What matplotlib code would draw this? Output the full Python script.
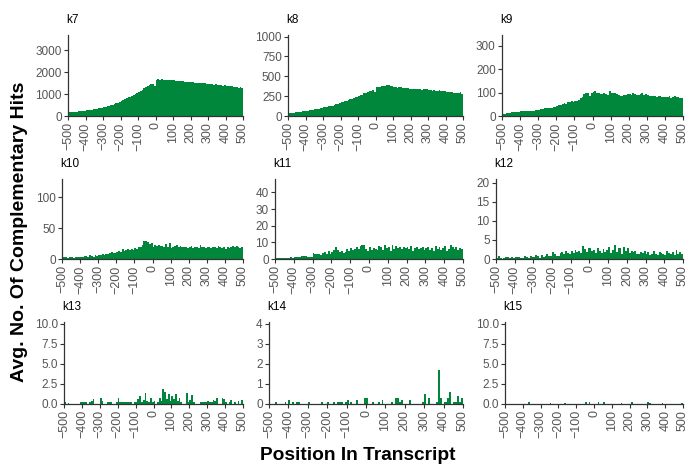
import numpy as np
import matplotlib
matplotlib.use("Agg")
import matplotlib.pyplot as plt

plt.rcParams["font.family"] = "Liberation Sans"

# bins of 10 nt from -500 to 500
bin_edges = np.arange(-500, 501, 10)
x_ticks = np.arange(-500, 501, 100)

k7 = [165, 170, 175, 180, 190, 200, 210, 220, 230, 245,
      260, 270, 280, 290, 305, 320, 335, 350, 365, 385,
      400, 420, 440, 465, 490, 515, 545, 575, 610, 650,
      690, 730, 770, 810, 850, 890, 930, 975, 1020, 1065,
      1110, 1160, 1210, 1260, 1310, 1360, 1410, 1450, 1480, 1350,
      1650, 1680, 1660, 1680, 1650, 1640, 1660, 1650, 1640, 1630,
      1630, 1620, 1610, 1600, 1600, 1590, 1560, 1550, 1540, 1550,
      1560, 1550, 1530, 1510, 1520, 1510, 1500, 1490, 1490, 1470,
      1470, 1450, 1440, 1430, 1440, 1410, 1420, 1400, 1390, 1400,
      1380, 1370, 1350, 1360, 1340, 1320, 1330, 1300, 1310, 1300]

k8 = [35, 36, 38, 40, 45, 48, 50, 55, 58, 62,
      65, 68, 72, 76, 80, 85, 88, 92, 97, 102,
      110, 108, 115, 120, 125, 132, 140, 148, 155, 165,
      175, 180, 185, 192, 200, 210, 220, 228, 238, 245,
      255, 262, 270, 285, 295, 300, 310, 318, 325, 300,
      360, 365, 370, 375, 380, 372, 385, 392, 380, 375,
      360, 370, 355, 360, 362, 355, 358, 350, 352, 345,
      345, 342, 345, 340, 338, 340, 330, 338, 342, 335,
      330, 325, 320, 328, 315, 318, 322, 312, 310, 315,
      305, 302, 300, 298, 295, 290, 292, 295, 300, 275]

k9 = [10, 10, 12, 12, 14, 16, 18, 16, 15, 16,
      20, 20, 20, 21, 22, 22, 22, 22, 24, 24,
      26, 28, 30, 32, 33, 34, 36, 35, 38, 40,
      44, 45, 48, 50, 55, 52, 58, 60, 62, 60,
      64, 66, 70, 75, 82, 92, 100, 98, 85, 96,
      104, 106, 98, 96, 95, 92, 100, 95, 90, 105,
      98, 100, 96, 94, 88, 85, 84, 88, 90, 92,
      92, 90, 96, 92, 90, 88, 93, 98, 90, 92,
      88, 86, 84, 86, 84, 82, 86, 84, 80, 82,
      80, 82, 84, 78, 80, 86, 82, 80, 78, 78]

k10 = [3, 3, 3, 2, 3, 3, 2, 3, 4, 3,
       4, 4, 5, 5, 4, 6, 5, 3, 7, 5,
       7, 6, 8, 7, 8, 8, 9, 11, 9, 10,
       11, 13, 12, 16, 13, 15, 17, 14, 16, 15,
       18, 16, 19, 20, 23, 29, 30, 28, 24, 26,
       20, 22, 21, 22, 21, 21, 20, 25, 20, 26,
       18, 20, 21, 22, 20, 21, 20, 19, 20, 18,
       19, 21, 18, 19, 20, 18, 22, 19, 20, 18,
       19, 20, 18, 20, 19, 18, 21, 19, 18, 20,
       17, 19, 18, 20, 21, 19, 21, 20, 18, 19]

k11 = [0.5, 0.6, 0.5, 0.8, 0.6, 0.7, 0.9, 0.8, 1.2, 0.9,
       1.0, 1.2, 1.5, 1.3, 1.8, 1.6, 1.7, 1.5, 1.5, 1.2,
       3.5, 3.0, 2.8, 3.2, 2.6, 3.4, 4.5, 3.0, 4.8, 3.2,
       4.5, 5.6, 7.0, 5.2, 4.0, 4.8, 3.5, 4.2, 5.8, 5.0,
       6.5, 5.5, 6.2, 7.0, 6.0, 7.8, 8.5, 8.4, 6.0, 5.0,
       7.0, 5.5, 6.8, 6.0, 5.2, 8.0, 7.5, 5.5, 8.4, 6.5,
       7.2, 5.0, 8.2, 6.0, 7.6, 6.4, 7.4, 5.8, 7.0, 6.6,
       7.2, 6.0, 7.8, 5.0, 6.8, 7.0, 5.8, 6.6, 7.4, 5.6,
       6.8, 7.2, 5.4, 6.6, 4.8, 8.0, 6.0, 7.0, 5.2, 6.4,
       7.6, 5.0, 6.2, 8.4, 7.0, 6.0, 7.4, 5.2, 6.8, 5.8]

k12 = [0.3, 0.7, 0.2, 0.1, 0.3, 0.6, 0.5, 0.2, 0.6, 0.3,
       0.4, 0.6, 0.5, 0.2, 0.3, 0.8, 0.6, 0.3, 0.9, 0.4,
       0.5, 1.0, 0.8, 0.3, 1.0, 0.6, 0.8, 1.2, 0.7, 0.9,
       1.8, 1.2, 0.9, 0.8, 1.6, 1.9, 1.2, 2.0, 1.6, 1.4,
       2.0, 1.5, 2.4, 1.8, 2.2, 1.6, 3.4, 2.6, 1.8, 2.8,
       3.0, 2.2, 2.4, 1.5, 2.8, 2.0, 1.6, 2.6, 1.8, 2.4,
       3.2, 1.6, 2.4, 3.6, 1.8, 2.8, 3.0, 1.4, 3.2, 2.2,
       2.8, 1.6, 2.2, 1.8, 2.0, 1.4, 1.2, 1.8, 1.6, 2.2,
       1.4, 1.8, 1.0, 1.2, 2.0, 1.4, 1.1, 1.8, 1.6, 1.2,
       1.0, 2.2, 1.6, 1.2, 1.8, 1.0, 2.4, 1.2, 1.8, 1.4]

k13 = [0.2, 0, 0.1, 0, 0, 0, 0, 0, 0, 0.3,
       0.2, 0.3, 0.3, 0, 0.2, 0.4, 0.6, 0, 0, 0,
       0.7, 0.4, 0, 0, 0.3, 0.2, 0.3, 0, 0, 0.2,
       0.8, 0.2, 0.3, 0.2, 0.3, 0.2, 0.3, 0.2, 0, 0.2,
       0.2, 0.6, 1.0, 0.3, 0.5, 1.4, 0.4, 0.2, 0.8, 0.3,
       0.4, 0, 0.3, 0.8, 0.4, 1.9, 1.5, 0.6, 1.2, 0.4,
       1.0, 0.6, 1.3, 0.4, 0.8, 0.3, 0, 0, 1.4, 0.3,
       0.5, 1.1, 0.2, 0, 0, 0, 0.2, 0.3, 0.3, 0.2,
       0.4, 0.3, 0.3, 0.5, 0.4, 0.8, 0, 0, 0.7, 0.6,
       0.3, 0, 0.2, 0.5, 0, 0.3, 0, 0.4, 0, 0.5]

k14 = [0, 0, 0, 0.1, 0, 0, 0, 0, 0.1, 0,
       0.2, 0, 0.1, 0, 0.1, 0.1, 0, 0, 0, 0,
       0.1, 0, 0, 0, 0, 0, 0, 0.1, 0, 0,
       0.1, 0, 0, 0.1, 0, 0.1, 0.1, 0.1, 0, 0.1,
       0.2, 0, 0.1, 0, 0, 0.2, 0, 0, 0, 0.3,
       0.3, 0, 0, 0.1, 0, 0, 0.1, 0, 0.2, 0,
       0, 0, 0, 0.1, 0, 0.3, 0.3, 0.1, 0.2, 0,
       0, 0, 0.2, 0, 0, 0, 0, 0, 0, 0.1,
       0.5, 0, 0.3, 0, 0, 0, 0.1, 1.7, 0.3, 0,
       0.1, 0.1, 0.3, 0.6, 0, 0.1, 0.1, 0.4, 0.1, 0.3]

k15 = [0, 0, 0, 0, 0, 0, 0, 0, 0, 0,
       0, 0, 0, 0.2, 0, 0, 0, 0, 0, 0,
       0, 0, 0, 0, 0, 0.1, 0, 0, 0, 0,
       0, 0, 0, 0.1, 0, 0, 0, 0, 0, 0,
       0, 0, 0, 0, 0, 0.3, 0, 0.25, 0, 0,
       0, 0, 0.2, 0, 0, 0.2, 0, 0, 0, 0,
       0, 0, 0, 0, 0, 0.1, 0, 0, 0, 0,
       0, 0.2, 0, 0, 0, 0, 0, 0, 0, 0,
       0.2, 0.1, 0, 0, 0, 0, 0, 0, 0.1, 0,
       0, 0, 0, 0, 0, 0, 0, 0, 0, 0.1]

names = ["k7", "k8", "k9", "k10", "k11", "k12", "k13", "k14", "k15"]
series = [k7, k8, k9, k10, k11, k12, k13, k14, k15]
y_ticks = [[0, 1000, 2000, 3000], [0, 250, 500, 750, 1000], [0, 100, 200, 300],
           [0, 50, 100], [0, 10, 20, 30, 40], [0, 5, 10, 15, 20],
           [0, 2.5, 5, 7.5, 10], [0, 1, 2, 3, 4], [0, 2.5, 5, 7.5, 10]]
y_max = [3700, 1020, 345, 130, 48, 21, 10.2, 4.1, 10.2]
y_fmt = ["{:.0f}"] * 6 + ["{:.1f}", "{:.0f}", "{:.1f}"]

# panel boxes in pixels (left edge of each axis, shared right edges / rows)
W, H = 688, 465
lefts = [68, 288, 502, 62, 275, 496, 64, 269, 505]
rights = [243, 463, 683]
tops = [35, 179, 322]
bottoms = [116, 259, 404]

green = "#00873c"
tick_grey = "#555555"

fig = plt.figure(figsize=(W / 100, H / 100), dpi=100)

for i, (name, vals) in enumerate(zip(names, series)):
    row, col = divmod(i, 3)
    l, r = lefts[i], rights[col]
    t, b = tops[row], bottoms[row]
    ax = fig.add_axes([l / W, 1 - b / H, (r - l) / W, (b - t) / H])

    ax.stairs(vals, bin_edges, fill=True, color=green, linewidth=0)

    ax.set_xlim(-500, 500)
    ax.set_ylim(0, y_max[i])
    ax.set_xticks(x_ticks)
    ax.set_xticklabels([f"{v}".replace("-", "\u2212") for v in x_ticks], rotation=90)
    ax.set_yticks(y_ticks[i])
    ax.set_yticklabels([y_fmt[i].format(v) for v in y_ticks[i]])

    for side in ["top", "right"]:
        ax.spines[side].set_visible(False)
    for side in ["left", "bottom"]:
        ax.spines[side].set_color("#333333")
        ax.spines[side].set_linewidth(0.9)
    ax.tick_params(axis="both", length=3, width=0.8, color="#333333",
                   labelcolor=tick_grey, pad=1.5)
    ax.tick_params(axis="x", labelsize=9)
    ax.tick_params(axis="y", labelsize=8.5)

    ax.annotate(name, xy=(0, 1), xycoords="axes fraction", xytext=(-1, 11),
                textcoords="offset points", ha="left", va="center",
                fontsize=8.5, color="black")

fig.text(20 / W, 1 - 232 / H, "Avg. No. Of Complementary Hits", rotation=90,
         ha="center", va="center", fontsize=14, fontweight="bold")
fig.text(358 / W, 1 - 455 / H, "Position In Transcript",
         ha="center", va="center", fontsize=13.8, fontweight="bold")

fig.savefig("out.png", dpi=100)
